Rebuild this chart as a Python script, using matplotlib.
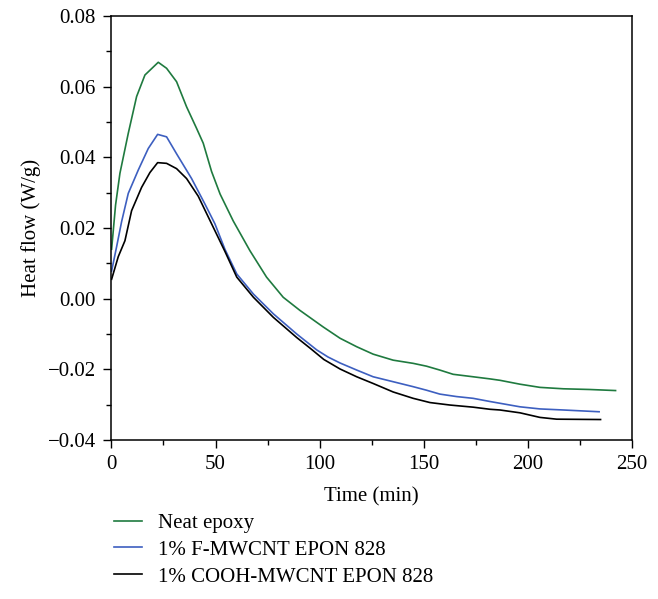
import matplotlib
matplotlib.use('agg')
import matplotlib.pyplot as plt
from matplotlib.ticker import MultipleLocator

# curves (time in min, heat flow in W/g)
neatTime = [0.1, 2.0, 4.1, 8.1, 12.1, 16.1, 22.5, 26.5, 31.3, 36.1, 40.9, 44.1,
            48.1, 52.2, 58.5, 66.5, 74.5, 82.5, 90.5, 101.7, 109.8, 117.8, 125.7,
            135.3, 144.9, 151.3, 157.7, 164.1, 173.7, 181.8, 186.6, 196.2, 205.8,
            217.0, 229.7, 242.1]
neatFlow = [0.0140, 0.0265, 0.0355, 0.0468, 0.0572, 0.0633, 0.0669, 0.0652, 0.0614,
            0.0543, 0.0482, 0.0440, 0.0360, 0.0296, 0.0220, 0.0136, 0.0061, 0.0004,
            -0.0033, -0.0080, -0.0112, -0.0136, -0.0157, -0.0174, -0.0183, -0.0191,
            -0.0202, -0.0214, -0.0221, -0.0227, -0.0231, -0.0242, -0.0251, -0.0255,
            -0.0257, -0.0260]

fTime = [0.1, 2.5, 4.9, 8.1, 12.9, 17.7, 22.2, 26.5, 31.3, 38.5, 44.9, 49.7,
         54.5, 60.2, 68.2, 77.8, 89.0, 98.6, 104.0, 109.8, 117.8, 125.7, 135.3, 144.9,
         151.3, 157.7, 165.7, 173.7, 181.8, 186.6, 196.2, 205.8, 217.0, 234.2]
fFlow = [0.0078, 0.0147, 0.0218, 0.0298, 0.0364, 0.0425, 0.0465, 0.0458, 0.0410,
         0.0340, 0.0268, 0.0212, 0.0140, 0.0070, 0.0013, -0.0043, -0.0100, -0.0145,
         -0.0165, -0.0182, -0.0202, -0.0221, -0.0235, -0.0249, -0.0259, -0.0270, -0.0277,
         -0.0282, -0.0291, -0.0296, -0.0306, -0.0312, -0.0315, -0.0320]

coohTime = [0.1, 3.3, 6.5, 9.7, 14.5, 18.5, 22.2, 26.5, 31.3, 36.1, 41.7, 48.1,
            54.5, 60.2, 68.2, 77.8, 89.0, 95.4, 102.0, 109.8, 117.8, 125.7, 135.3, 144.9,
            153.0, 162.6, 173.7, 181.8, 186.6, 196.2, 205.8, 213.8, 234.9]
coohFlow = [0.0055, 0.0119, 0.0164, 0.0249, 0.0315, 0.0357, 0.0385, 0.0383, 0.0368,
            0.0340, 0.0290, 0.0212, 0.0134, 0.0061, 0.0004, -0.0053, -0.0110, -0.0140,
            -0.0172, -0.0199, -0.0221, -0.0240, -0.0264, -0.0282, -0.0294, -0.0301, -0.0307,
            -0.0313, -0.0315, -0.0323, -0.0336, -0.0341, -0.0342]

labels = ['Neat epoxy', '1% F-MWCNT EPON 828', '1% COOH-MWCNT EPON 828']

plt.rcParams['font.family'] = ['Liberation Serif', 'DejaVu Serif']
plt.rcParams['font.size'] = 15

fig = plt.figure(figsize=(6.58, 5.99), dpi=100)
ax = fig.add_axes([0.1693, 0.2654, 0.7912, 0.7079])

neatPlot, = ax.plot(neatTime, neatFlow, color='#1f7a3f', lw=1.2, label=labels[0])
fPlot, = ax.plot(fTime, fFlow, color='#3d5fc0', lw=1.2, label=labels[1])
coohPlot, = ax.plot(coohTime, coohFlow, color='black', lw=1.2, label=labels[2])

ax.set_xlim(0, 250)
ax.set_ylim(-0.04, 0.08)
ax.xaxis.set_major_locator(MultipleLocator(50))
ax.xaxis.set_minor_locator(MultipleLocator(25))
ax.yaxis.set_major_locator(MultipleLocator(0.02))
ax.yaxis.set_minor_locator(MultipleLocator(0.01))
ax.yaxis.set_major_formatter(plt.FuncFormatter(lambda v, p: f'{v:.2f}'.replace('-', '\u2212')))
ax.tick_params(which='major', direction='out', length=6, width=1, pad=5)
ax.tick_params(which='minor', direction='out', length=3.5, width=1)
for s in ax.spines.values():
    s.set_linewidth(1.1)

ax.set_xlabel('Time (min)', labelpad=9)
ax.set_ylabel('Heat flow (W/g)', labelpad=5)

fig.legend(handles=[neatPlot, fPlot, coohPlot], loc='upper left',
           bbox_to_anchor=(0.16, 0.157), frameon=False,
           handlelength=1.35, handletextpad=0.8, labelspacing=0.35,
           borderaxespad=0)

fig.savefig('out.png', dpi=100)
